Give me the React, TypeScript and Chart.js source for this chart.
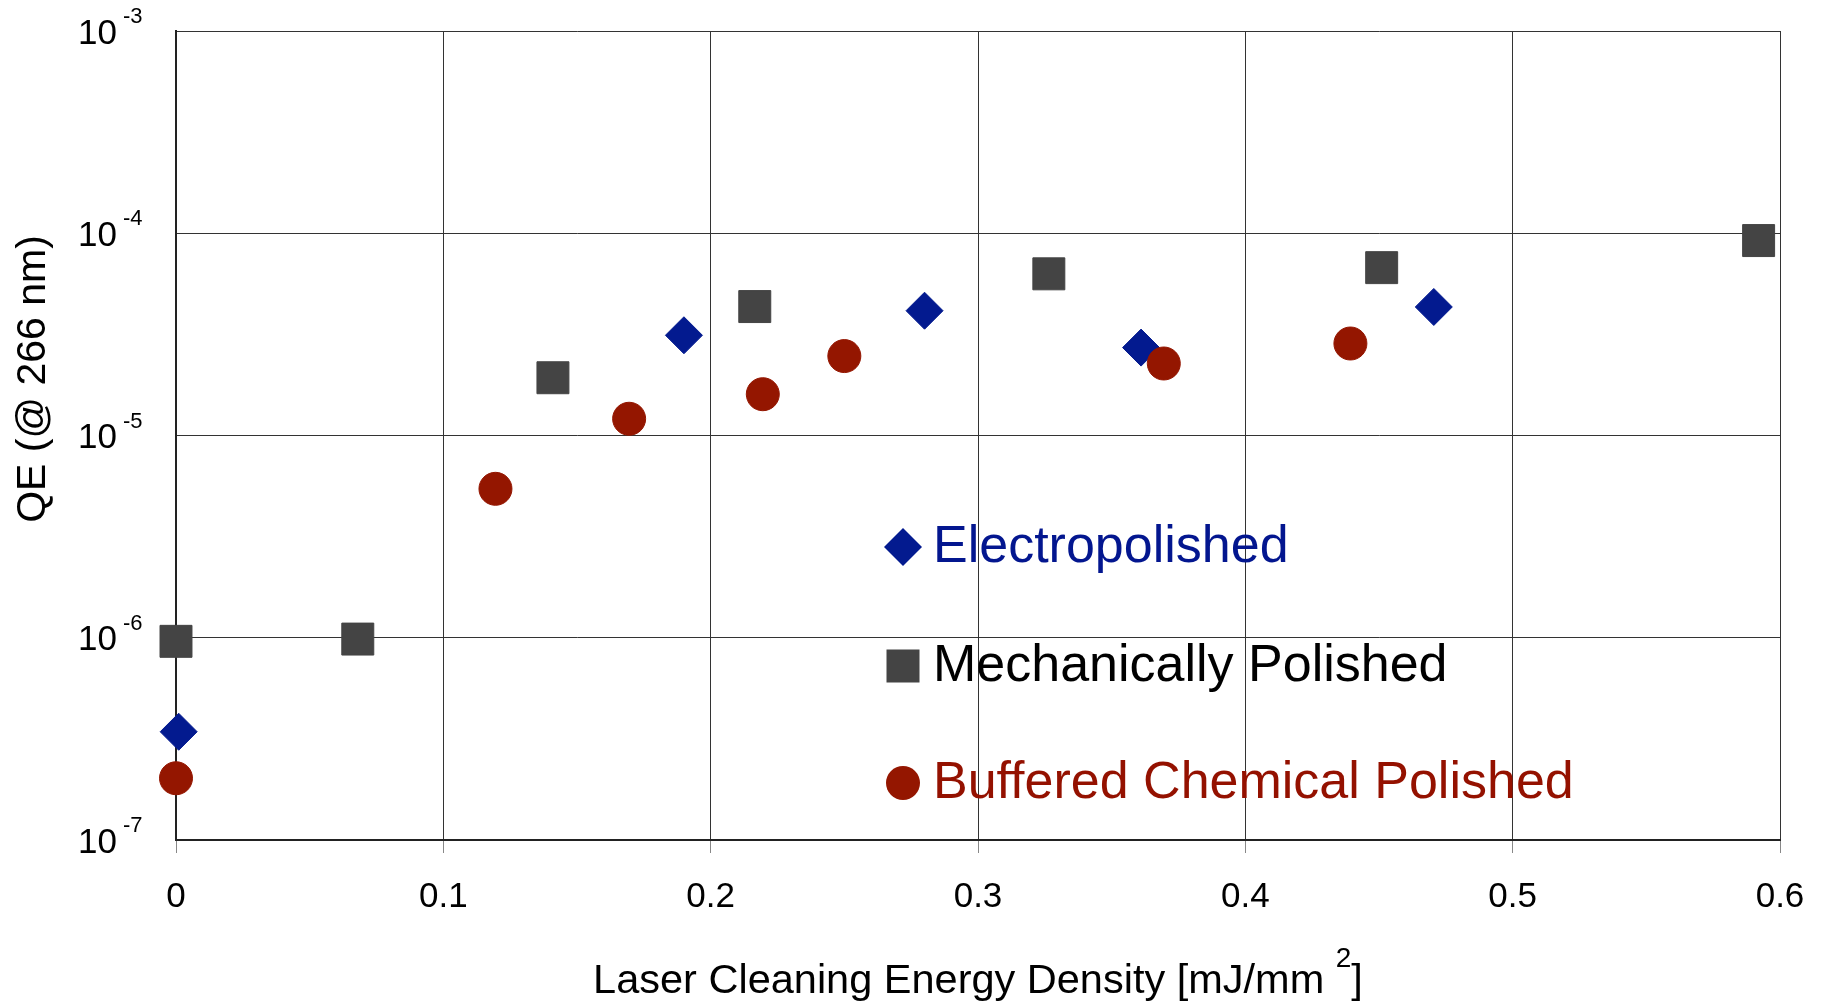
import React, { useEffect, useRef } from 'react';
import { Chart, registerables } from 'chart.js';

Chart.register(...registerables);

const FONT = "'Liberation Sans', Arial, Helvetica, sans-serif";

// Series names, in legend order
const SERIES_NAMES = ['Electropolished', 'Mechanically Polished', 'Buffered Chemical Polished'];

// Electropolished samples
const EP_X = [0.001, 0.19, 0.28, 0.361, 0.4705];
const EP_QE = [3.43e-7, 3.13e-5, 4.14e-5, 2.72e-5, 4.32e-5];

// Mechanically polished samples
const MP_X = [0, 0.068, 0.141, 0.2165, 0.3265, 0.451, 0.592];
const MP_QE = [9.6e-7, 9.85e-7, 1.93e-5, 4.34e-5, 6.3e-5, 6.76e-5, 9.2e-5];

// Buffered chemical polished samples
const BCP_X = [0, 0.1195, 0.1695, 0.2195, 0.25, 0.3695, 0.4393];
const BCP_QE = [2.02e-7, 5.45e-6, 1.21e-5, 1.6e-5, 2.47e-5, 2.27e-5, 2.85e-5];

// Axis ticks
const X_TICKS = [0, 0.1, 0.2, 0.3, 0.4, 0.5, 0.6];
const X_TICK_LABELS = ['0', '0.1', '0.2', '0.3', '0.4', '0.5', '0.6'];
const Y_TICKS = [1e-7, 1e-6, 1e-5, 1e-4, 1e-3];
const Y_TICK_EXPONENTS = ['-7', '-6', '-5', '-4', '-3'];

// Axis titles
const X_TITLE = 'Laser Cleaning Energy Density [mJ/mm ';
const X_TITLE_SUP = '2';
const X_TITLE_END = ']';
const Y_TITLE = 'QE (@ 266 nm)';

const COLORS = {
  ep: '#031A8F',
  mp: '#444444',
  bcp: '#941600',
};
const TEXT_COLORS = ['#03168F', '#000000', '#941100'];
const MARKERS = ['diamond', 'square', 'circle'];

const toPoints = (xs: number[], ys: number[]) => xs.map((x, i) => ({ x, y: ys[i] }));

function drawMarker(ctx: CanvasRenderingContext2D, kind: string, cx: number, cy: number, color: string) {
  ctx.save();
  ctx.fillStyle = color;
  ctx.beginPath();
  if (kind === 'diamond') {
    const r = 19;
    ctx.moveTo(cx - r, cy);
    ctx.lineTo(cx, cy - r);
    ctx.lineTo(cx + r, cy);
    ctx.lineTo(cx, cy + r);
    ctx.closePath();
  } else if (kind === 'square') {
    const h = 16.5;
    ctx.rect(cx - h, cy - h, 2 * h, 2 * h);
  } else {
    ctx.arc(cx, cy, 17, 0, Math.PI * 2);
  }
  ctx.fill();
  ctx.restore();
}

const decorations = {
  id: 'decorations',
  afterDraw(chart: any) {
    const { ctx, chartArea, scales } = chart;
    const yScale = scales.y;
    ctx.save();

    // Decade labels on the QE axis: "10" with a raised exponent
    ctx.fillStyle = '#000';
    Y_TICKS.forEach((v, i) => {
      const py = yScale.getPixelForValue(v);
      ctx.font = `35px ${FONT}`;
      ctx.textAlign = 'right';
      ctx.textBaseline = 'alphabetic';
      ctx.fillText('10', chartArea.left - 59, py + 12.5);
      ctx.font = `22px ${FONT}`;
      ctx.textAlign = 'left';
      ctx.fillText(Y_TICK_EXPONENTS[i], chartArea.left - 53, py - 8);
    });

    // Vertical axis title
    ctx.save();
    ctx.translate(34, 379);
    ctx.rotate(-Math.PI / 2);
    ctx.font = `41px ${FONT}`;
    ctx.textAlign = 'center';
    ctx.textBaseline = 'middle';
    ctx.fillText(Y_TITLE, 0, 0);
    ctx.restore();

    // Horizontal axis title with superscript unit
    const mainFont = `41.5px ${FONT}`;
    const supFont = `28px ${FONT}`;
    ctx.font = mainFont;
    const w1 = ctx.measureText(X_TITLE).width;
    const w3 = ctx.measureText(X_TITLE_END).width;
    ctx.font = supFont;
    const w2 = ctx.measureText(X_TITLE_SUP).width;
    const total = w1 + w2 + w3;
    const cx = (chartArea.left + chartArea.right) / 2;
    let tx = cx - total / 2;
    const base = 993;
    ctx.textAlign = 'left';
    ctx.textBaseline = 'alphabetic';
    ctx.font = mainFont;
    ctx.fillText(X_TITLE, tx, base);
    tx += w1;
    ctx.font = supFont;
    ctx.fillText(X_TITLE_SUP, tx, base - 26);
    tx += w2;
    ctx.font = mainFont;
    ctx.fillText(X_TITLE_END, tx, base);

    // Legend placed inside the plot area
    const markerX = chartArea.left + 727;
    const textX = chartArea.left + 757;
    const rowBase = [562, 681, 798];
    const markerColors = [COLORS.ep, COLORS.mp, COLORS.bcp];
    ctx.font = `52px ${FONT}`;
    SERIES_NAMES.forEach((name, i) => {
      drawMarker(ctx, MARKERS[i], markerX, rowBase[i] - 15, markerColors[i]);
      ctx.fillStyle = TEXT_COLORS[i];
      ctx.fillText(name, textX, rowBase[i]);
    });

    ctx.restore();
  },
};

export default function App() {
  const canvasRef = useRef<HTMLCanvasElement | null>(null);

  useEffect(() => {
    if (!canvasRef.current) return;
    const chart = new Chart(canvasRef.current, {
      type: 'scatter',
      data: {
        datasets: [
          {
            label: SERIES_NAMES[0],
            data: toPoints(EP_X, EP_QE),
            pointStyle: 'rectRot',
            pointRadius: 18.5,
            pointBackgroundColor: COLORS.ep,
            pointBorderColor: COLORS.ep,
            pointBorderWidth: 1,
            order: 3,
            clip: false,
          },
          {
            label: SERIES_NAMES[1],
            data: toPoints(MP_X, MP_QE),
            pointStyle: 'rect',
            pointRadius: 22.6,
            pointBackgroundColor: COLORS.mp,
            pointBorderColor: COLORS.mp,
            pointBorderWidth: 1,
            order: 2,
            clip: false,
          },
          {
            label: SERIES_NAMES[2],
            data: toPoints(BCP_X, BCP_QE),
            pointStyle: 'circle',
            pointRadius: 16.5,
            pointBackgroundColor: COLORS.bcp,
            pointBorderColor: COLORS.bcp,
            pointBorderWidth: 1,
            order: 1,
            clip: false,
          },
        ],
      },
      options: {
        animation: false,
        responsive: false,
        maintainAspectRatio: false,
        layout: { padding: { top: 31, right: 42, left: 0, bottom: 0 } },
        plugins: {
          legend: { display: false },
          tooltip: { enabled: false },
        },
        scales: {
          x: {
            type: 'linear',
            min: 0,
            max: 0.6,
            afterBuildTicks: (s: any) => {
              s.ticks = X_TICKS.map((v) => ({ value: v }));
            },
            afterFit: (s: any) => {
              s.height = 162;
            },
            ticks: {
              autoSkip: false,
              maxRotation: 0,
              padding: 12,
              color: '#000',
              font: { family: FONT, size: 35, lineHeight: 64 / 35 },
              callback: (_v: any, i: number) => X_TICK_LABELS[i],
            },
            grid: {
              color: '#333',
              lineWidth: 1,
              drawTicks: true,
              tickLength: 13,
              tickColor: '#888',
            },
            border: { display: true, color: '#222', width: 2 },
          },
          y: {
            type: 'logarithmic',
            min: 1e-7,
            max: 1e-3,
            afterBuildTicks: (s: any) => {
              s.ticks = Y_TICKS.map((v) => ({ value: v }));
            },
            afterFit: (s: any) => {
              s.width = 176;
            },
            ticks: { display: false },
            grid: {
              color: '#333',
              lineWidth: 1,
              drawTicks: false,
            },
            border: { display: true, color: '#222', width: 2 },
          },
        },
      },
      plugins: [decorations],
    });
    return () => chart.destroy();
  }, []);

  return (
    <div
      style={{
        position: 'fixed',
        left: 0,
        top: 0,
        width: 1822,
        height: 1002,
        background: '#fff',
      }}
    >
      <canvas ref={canvasRef} width={1822} height={1002} style={{ display: 'block' }} />
    </div>
  );
}
